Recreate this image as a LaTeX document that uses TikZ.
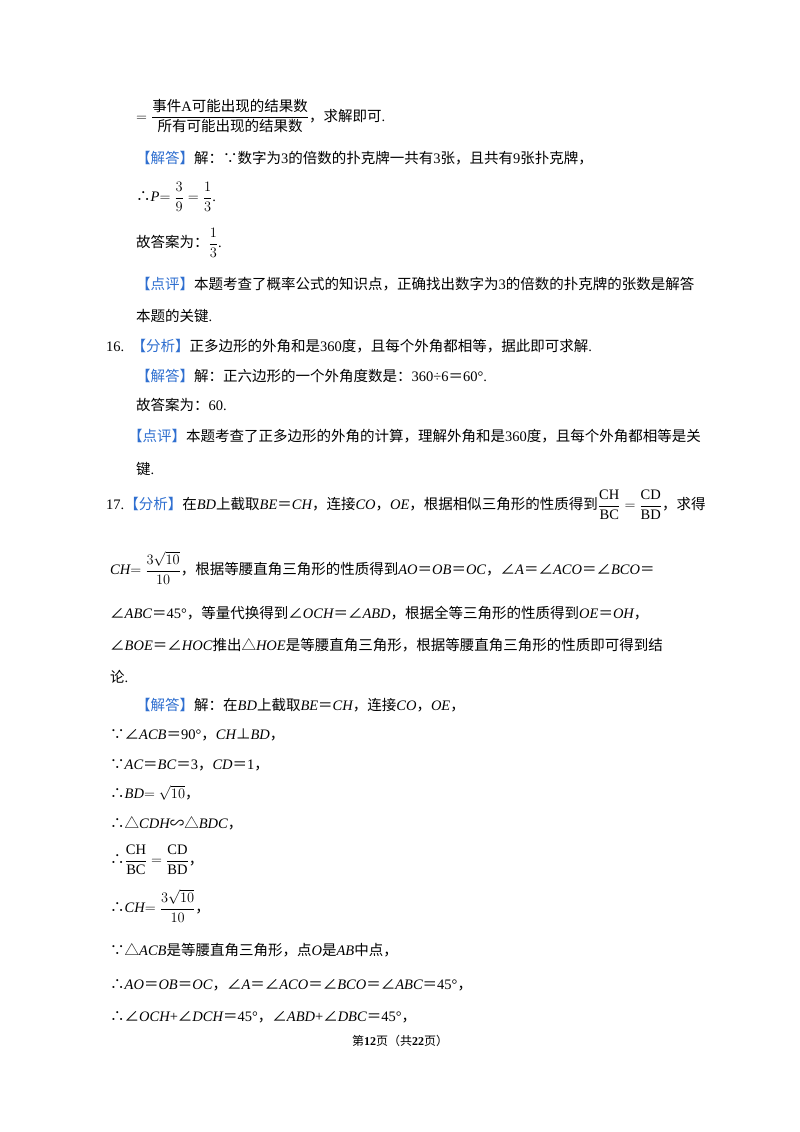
\documentclass[tikz,border=0pt]{standalone}
\usepackage{amsmath}
\usepackage{fontspec}
\setmainfont{Liberation Serif}
\newfontfamily\cjk{Noto Sans CJK SC}
\XeTeXinterchartokenstate=1
\newXeTeXintercharclass\cjkclass
\newcount\cc
\cc="4E00 \loop \XeTeXcharclass\cc=\cjkclass \advance\cc 1 \ifnum\cc<"A000 \repeat
\cc="3000 \loop \XeTeXcharclass\cc=\cjkclass \advance\cc 1 \ifnum\cc<"3040 \repeat
\cc="FF00 \loop \XeTeXcharclass\cc=\cjkclass \advance\cc 1 \ifnum\cc<"FFF0 \repeat
\XeTeXcharclass"2235=\cjkclass \XeTeXcharclass"2234=\cjkclass
\XeTeXcharclass"2220=\cjkclass \XeTeXcharclass"25B3=\cjkclass
\XeTeXcharclass"22A5=\cjkclass \XeTeXcharclass"223D=\cjkclass
\XeTeXinterchartoks 0 \cjkclass = {\cjk}
\XeTeXinterchartoks 4095 \cjkclass = {\cjk}
\XeTeXinterchartoks \cjkclass 0 = {\rmfamily}
\XeTeXinterchartoks \cjkclass 4095 = {\rmfamily}
\definecolor{tagblue}{HTML}{2F6FD0}
\newcommand{\tg}[1]{{\color{tagblue}【#1】}}
\newcommand{\vv}[1]{{\rmfamily\itshape #1}}
\newcommand{\dg}[1]{{\rmfamily #1}}
\begin{document}
\begin{tikzpicture}[x=1pt,y=-1pt,
  ln/.style={anchor=west,inner sep=0pt,font=\fontsize{14.5}{17}\selectfont}]
\useasboundingbox (0,0) rectangle (800,1132);
\fill[white] (0,0) rectangle (800,1132);
\node[ln] (l1) at (136,116) {$=\dfrac{\mbox{事件A可能出现的结果数}}{\mbox{所有可能出现的结果数}}$，求解即可.};
\node[ln] (l2) at (136,158) {\tg{解答}解：∵数字为\dg{3}的倍数的扑克牌一共有\dg{3}张，且共有\dg{9}张扑克牌，};
\node[ln] (l3) at (136,197) {∴\vv{P}$=\dfrac{3}{9}=\dfrac{1}{3}$.};
\node[ln] (l4) at (136,243) {故答案为：$\dfrac{1}{3}$.};
\node[ln] (l5) at (136,284) {\tg{点评}本题考查了概率公式的知识点，正确找出数字为\dg{3}的倍数的扑克牌的张数是解答};
\node[ln] (l6) at (136,316) {本题的关键.};
\node[ln] (l7) at (106,346) {\dg{16.}\ \ \tg{分析}正多边形的外角和是\dg{360}度，且每个外角都相等，据此即可求解.};
\node[ln] (l8) at (136,376) {\tg{解答}解：正六边形的一个外角度数是：\dg{360÷6}＝\dg{60°.}};
\node[ln] (l9) at (136,405) {故答案为：\dg{60.}};
\node[ln] (l10) at (128,436) {\tg{点评}本题考查了正多边形的外角的计算，理解外角和是\dg{360}度，且每个外角都相等是关};
\node[ln] (l11) at (136,469) {键.};
\node[ln] (l13) at (106,505) {\dg{17.}\tg{分析}在\vv{BD}上截取\vv{BE}＝\vv{CH}，连接\vv{CO}，\vv{OE}，根据相似三角形的性质得到$\dfrac{\mathrm{CH}}{\mathrm{BC}}=\dfrac{\mathrm{CD}}{\mathrm{BD}}$，求得};
\node[ln] (l14) at (110,568) {\vv{CH}$=\dfrac{3\sqrt{10}}{10}$，根据等腰直角三角形的性质得到\vv{AO}＝\vv{OB}＝\vv{OC}，∠\vv{A}＝∠\vv{ACO}＝∠\vv{BCO}＝};
\node[ln] (l15) at (110,613) {∠\vv{ABC}＝\dg{45°}，等量代换得到∠\vv{OCH}＝∠\vv{ABD}，根据全等三角形的性质得到\vv{OE}＝\vv{OH}，};
\node[ln] (l16) at (110,645) {∠\vv{BOE}＝∠\vv{HOC}推出△\vv{HOE}是等腰直角三角形，根据等腰直角三角形的性质即可得到结};
\node[ln] (l17) at (110,677) {论.};
\node[ln] (l18) at (136,705) {\tg{解答}解：在\vv{BD}上截取\vv{BE}＝\vv{CH}，连接\vv{CO}，\vv{OE}，};
\node[ln] (l19) at (110,735) {∵∠\vv{ACB}＝\dg{90°}，\vv{CH}⊥\vv{BD}，};
\node[ln] (l20) at (110,765) {∵\vv{AC}＝\vv{BC}＝\dg{3}，\vv{CD}＝\dg{1}，};
\node[ln] (l21) at (110,793) {∴\vv{BD}$=\sqrt{10}$，};
\node[ln] (l22) at (110,823) {∴△\vv{CDH}∽△\vv{BDC}，};
\node[ln] (l23) at (110,860) {∴$\dfrac{\mathrm{CH}}{\mathrm{BC}}=\dfrac{\mathrm{CD}}{\mathrm{BD}}$，};
\node[ln] (l24) at (110,906) {∴\vv{CH}$=\dfrac{3\sqrt{10}}{10}$，};
\node[ln] (l25) at (110,950) {∵△\vv{ACB}是等腰直角三角形，点\vv{O}是\vv{AB}中点，};
\node[ln] (l26) at (110,985) {∴\vv{AO}＝\vv{OB}＝\vv{OC}，∠\vv{A}＝∠\vv{ACO}＝∠\vv{BCO}＝∠\vv{ABC}＝\dg{45°}，};
\node[ln] (l27) at (110,1017) {∴∠\vv{OCH}+∠\vv{DCH}＝\dg{45°}，∠\vv{ABD}+∠\vv{DBC}＝\dg{45°}，};
\node[anchor=center,inner sep=0pt,font=\fontsize{12}{14}\selectfont] (ft) at (400,1041) {第\textbf{12}页（共\textbf{22}页）};
\end{tikzpicture}
\end{document}
